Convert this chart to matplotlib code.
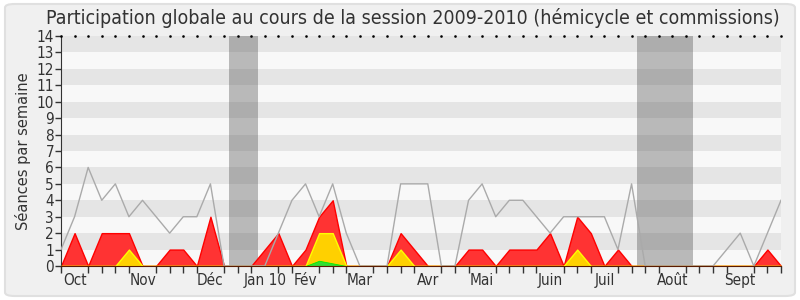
import numpy as np
import matplotlib.pyplot as plt
from matplotlib.patches import FancyBboxPatch

# -----------------------------
# Data (one point per week, session 2009-2010)
# -----------------------------

weeks = np.arange(54)

total_seances = [1, 3, 6, 4, 5, 3, 4, 3, 2, 3, 3, 5, 0, 0, 0, 0, 2, 4, 5, 3,
                 5, 2, 0, 0, 0, 5, 5, 5, 0, 0, 4, 5, 3, 4, 4, 3, 2, 3, 3, 3,
                 3, 1, 5, 0, 0, 0, 0, 0, 0, 1, 2, 0, 2, 4]

presences = [0, 2, 0, 2, 2, 2, 0, 0, 1, 1, 0, 3, 0, 0, 0, 1, 2, 0, 1, 3,
             4, 0, 0, 0, 0, 2, 1, 0, 0, 0, 1, 1, 0, 1, 1, 1, 2, 0, 3, 2,
             0, 1, 0, 0, 0, 0, 0, 0, 0, 0, 0, 0, 1, 0]

interventions = [0, 0, 0, 0, 0, 1, 0, 0, 0, 0, 0, 0, 0, 0, 0, 0, 0, 0, 0, 2,
                 2, 0, 0, 0, 0, 1, 0, 0, 0, 0, 0, 0, 0, 0, 0, 0, 0, 0, 1, 0,
                 0, 0, 0, 0, 0, 0, 0, 0, 0, 0, 0, 0, 0, 0]

questions = [0] * 54
questions[19] = 0.32
questions[20] = 0.16

vacances = [(12.4, 14.5), (42.4, 46.5)]

month_pos = [1, 6, 11, 15, 18, 22, 27, 31, 36, 40, 45, 50]
month_labels = ["Oct", "Nov", "Déc", "Jan 10", "Fév", "Mar", "Avr", "Mai",
                "Juin", "Juil", "Août", "Sept"]

ymax = 14

# -----------------------------
# Figure
# -----------------------------

plt.rcParams['font.family'] = 'DejaVu Sans'
plt.rcParams['font.stretch'] = 'condensed'

fig = plt.figure(figsize=(8, 3), dpi=100)
fig.patch.set_facecolor('white')
frame = FancyBboxPatch((5 / 800, 4 / 300), 790 / 800, 292 / 300,
                       boxstyle="round,pad=0,rounding_size=0.012",
                       transform=fig.transFigure, facecolor='#f0f0f0',
                       edgecolor='#e0e0e0', linewidth=1.5, zorder=-10)
fig.patches.append(frame)

ax = fig.add_axes([61 / 800, 34 / 300, 720 / 800, 230 / 300])
ax.set_facecolor('#f8f8f8')

# alternating stripes
for i in range(ymax):
    ax.axhspan(i, i + 1, color='#e5e5e5' if i % 2 == 1 else '#f8f8f8',
               lw=0, zorder=0)

# holidays
for start, end in vacances:
    ax.axvspan(start, end, color='#4e4e4e', alpha=0.37, lw=0, zorder=1)

ax.fill_between(weeks, presences, color='#ff3333', edgecolor='#ff0000',
                lw=1, zorder=2)
ax.fill_between(weeks, interventions, color='#ffd000', edgecolor='#ffff00',
                lw=1, zorder=3)
ax.fill_between(weeks, questions, color='#33dd33', edgecolor='#00ee00',
                lw=0.6, zorder=4)
ax.plot(weeks, total_seances, color='#aaaaaa', lw=1, zorder=5)

# dotted top edge
ax.plot(weeks, [ymax] * len(weeks), linestyle='none', marker='s',
        markersize=0.8, color='black', clip_on=False, zorder=6)

ax.set_xlim(0, 53)
ax.set_ylim(0, ymax)

ax.set_yticks(range(ymax + 1))
ax.tick_params(axis='y', length=4, width=1, color='#333333',
               labelsize=11, labelcolor='#333333', pad=1)

ax.set_xticks(month_pos)
ax.set_xticklabels(month_labels)
ax.set_xticks(weeks, minor=True)
ax.tick_params(axis='x', which='major', length=0, labelsize=11,
               labelcolor='#333333', pad=5)
ax.tick_params(axis='x', which='minor', length=5, width=1, color='#333333')

for side in ['top', 'right']:
    ax.spines[side].set_visible(False)
ax.spines['left'].set_color('#333333')
ax.spines['bottom'].set_color('#5a1a00')
ax.spines['bottom'].set_zorder(7)

ax.set_ylabel("Séances par semaine", fontsize=10.5, color='#333333',
              labelpad=4, fontstretch='normal')

fig.text(0.516, 0.94, "Participation globale au cours de la session 2009-2010 "
         "(hémicycle et commissions)", ha='center', va='center',
         fontsize=14, color='#333333')

fig.savefig("out.png", dpi=100)
